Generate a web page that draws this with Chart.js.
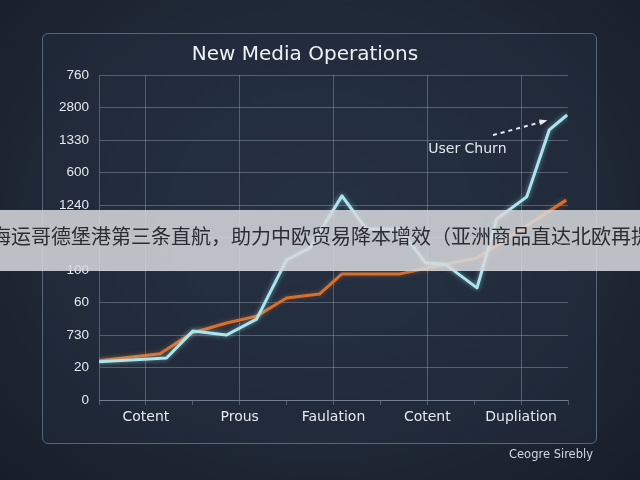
<!DOCTYPE html>
<html>
<head>
<meta charset="utf-8">
<script src="https://cdn.jsdelivr.net/npm/chart.js@4.4.1/dist/chart.umd.min.js"></script>
<style>
  html, body { margin: 0; padding: 0; }
  body {
    width: 640px; height: 480px; overflow: hidden; position: relative;
    background: radial-gradient(ellipse at 50% 45%, #253042 0%, #1f2836 60%, #171e29 100%);
    font-family: "DejaVu Sans", sans-serif;
  }
  #panel {
    position: absolute; left: 42px; top: 33px; width: 553px; height: 409px;
    border: 1.5px solid #58647a; border-radius: 6px;
    background: rgba(40, 52, 70, 0.25);
  }
  #wrap { position: absolute; left: 0; top: 0; width: 640px; height: 480px; }
  #footer {
    position: absolute; right: 47px; top: 447px;
    font-size: 11.5px; color: #d3d9df;
  }
  #banner {
    position: absolute; left: 0; top: 210px; width: 640px; height: 61px;
    background: rgba(214, 216, 220, 0.86); overflow: hidden;
  }
  #banner span {
    position: absolute; left: -9px; top: 11px; white-space: nowrap;
    font-family: "Noto Sans CJK SC", sans-serif; font-size: 20px; color: #2b2d31;
  }
</style>
</head>
<body>
<div id="panel"></div>
<div id="wrap"><canvas id="chart" width="640" height="480"></canvas></div>
<div id="footer">Ceogre Sirebly</div>
<div id="banner"><span>海运哥德堡港第三条直航，助力中欧贸易降本增效（亚洲商品直达北欧再提</span></div>

<script>
// categories on the x axis (one per band)
const categories = ["Cotent", "Prous", "Faulation", "Cotent", "Dupliation"];

// y tick labels, bottom to top
const yLabels = ["0", "20", "730", "60", "100", "", "1240", "600", "1330", "2800", "760"];

// light cyan series (x in category units, y in tick steps)
const cyanX = [0, 0.72, 1.0, 1.36, 1.68, 2.0, 2.25, 2.59, 2.85, 3.21, 3.48, 3.69, 4.03, 4.24, 4.56, 4.8, 4.99];
const cyanY = [1.18, 1.29, 2.12, 2.0, 2.49, 4.31, 4.68, 6.28, 5.26, 5.26, 4.22, 4.18, 3.45, 5.57, 6.25, 8.31, 8.77];

// orange series
const orangeX = [0, 0.65, 0.99, 1.36, 1.68, 2.0, 2.35, 2.59, 3.21, 3.5, 4.03, 4.98];
const orangeY = [1.21, 1.42, 2.06, 2.37, 2.58, 3.14, 3.26, 3.88, 3.88, 4.06, 4.37, 6.15];

// annotation
const noteText = "User Churn";
const notePos = [3.51, 7.72];
const arrowFrom = [4.2, 8.15];
const arrowTo = [4.75, 8.58];

const gridColor = "rgba(165, 180, 200, 0.38)";

const toPoints = (xs, ys) => xs.map((x, i) => ({ x: x, y: ys[i] }));

const glow = {
  id: "glow",
  beforeDatasetDraw(chart, args) {
    const ctx = chart.ctx;
    ctx.save();
    ctx.shadowColor = args.index === 0 ? "rgba(170, 235, 245, 0.55)" : "rgba(230, 120, 50, 0.4)";
    ctx.shadowBlur = 5;
  },
  afterDatasetDraw(chart) {
    chart.ctx.restore();
  }
};

const note = {
  id: "note",
  afterDatasetsDraw(chart) {
    const ctx = chart.ctx;
    const xs = chart.scales.x, ys = chart.scales.y;
    ctx.save();
    ctx.fillStyle = "#e4e8ec";
    ctx.font = "14px 'DejaVu Sans'";
    ctx.textBaseline = "middle";
    ctx.fillText(noteText, xs.getPixelForValue(notePos[0]), ys.getPixelForValue(notePos[1]));

    const x1 = xs.getPixelForValue(arrowFrom[0]), y1 = ys.getPixelForValue(arrowFrom[1]);
    const x2 = xs.getPixelForValue(arrowTo[0]), y2 = ys.getPixelForValue(arrowTo[1]);
    ctx.strokeStyle = "#e8ecf0";
    ctx.lineWidth = 2;
    ctx.setLineDash([4, 4]);
    ctx.beginPath();
    ctx.moveTo(x1, y1);
    ctx.lineTo(x2, y2);
    ctx.stroke();
    ctx.setLineDash([]);
    // small head
    const a = Math.atan2(y2 - y1, x2 - x1);
    ctx.fillStyle = "#e8ecf0";
    ctx.beginPath();
    ctx.moveTo(x2 + 3 * Math.cos(a), y2 + 3 * Math.sin(a));
    ctx.lineTo(x2 - 5 * Math.cos(a) + 3 * Math.sin(a), y2 - 5 * Math.sin(a) - 3 * Math.cos(a));
    ctx.lineTo(x2 - 5 * Math.cos(a) - 3 * Math.sin(a), y2 - 5 * Math.sin(a) + 3 * Math.cos(a));
    ctx.closePath();
    ctx.fill();
    ctx.restore();
  }
};

new Chart(document.getElementById("chart"), {
  type: "line",
  data: {
    datasets: [
      {
        label: "cyan",
        data: toPoints(cyanX, cyanY),
        borderColor: "#a9e7ef",
        borderWidth: 3,
        pointRadius: 0,
        tension: 0,
        borderJoinStyle: "round"
      },
      {
        label: "orange",
        data: toPoints(orangeX, orangeY),
        borderColor: "#d8702b",
        borderWidth: 3,
        pointRadius: 0,
        tension: 0,
        borderJoinStyle: "round"
      }
    ]
  },
  options: {
    responsive: false,
    animation: false,
    layout: { padding: { left: 42, right: 72, top: 33, bottom: 35 } },
    plugins: {
      legend: { display: false },
      tooltip: { enabled: false },
      title: {
        display: true,
        text: "New Media Operations",
        color: "#eef1f4",
        font: { family: "DejaVu Sans", size: 20, weight: "normal" },
        padding: { top: 10, bottom: 8 }
      }
    },
    scales: {
      x: {
        type: "linear",
        min: 0,
        max: 5,
        afterBuildTicks(scale) {
          const t = [];
          for (let v = 0; v <= 5; v += 0.5) t.push({ value: v });
          scale.ticks = t;
        },
        afterFit(scale) { scale.height = 45; },
        ticks: {
          autoSkip: false,
          maxRotation: 0,
          padding: 4,
          color: "#e6eaee",
          font: { family: "DejaVu Sans", size: 14 },
          callback: (v) => (v % 1 === 0.5 ? categories[Math.floor(v)] : "")
        },
        grid: {
          color: (c) => (c.tick && c.tick.value % 1 === 0.5 ? gridColor : "transparent"),
          tickColor: gridColor,
          tickLength: 5
        },
        border: { color: gridColor }
      },
      y: {
        min: 0,
        max: 10,
        afterFit(scale) { scale.width = 57; },
        ticks: {
          stepSize: 1,
          padding: 10,
          color: "#e6eaee",
          font: { family: "Liberation Sans", size: 13.5 },
          callback: (v) => yLabels[v]
        },
        grid: { color: gridColor, drawTicks: false },
        border: { color: gridColor }
      }
    }
  },
  plugins: [glow, note]
});
</script>
</body>
</html>
